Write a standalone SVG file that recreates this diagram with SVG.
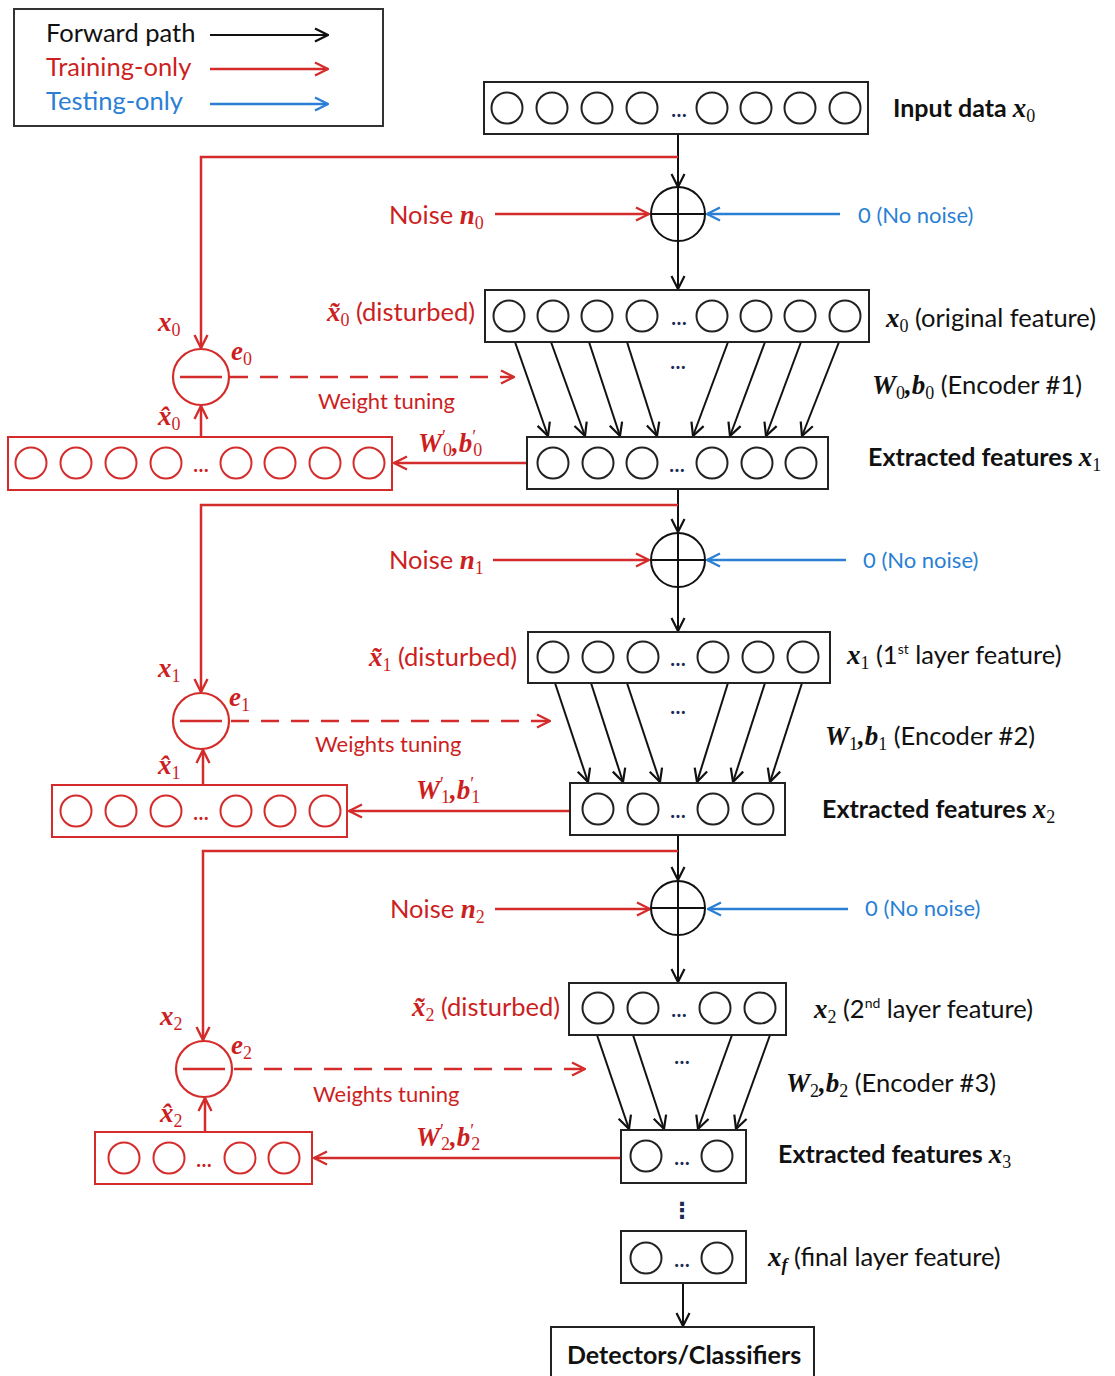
<svg xmlns="http://www.w3.org/2000/svg" width="1115" height="1376" viewBox="0 0 1115 1376">
<defs>
<marker id="ak" markerUnits="userSpaceOnUse" markerWidth="16" markerHeight="16" viewBox="0 0 16 16" refX="15" refY="8" orient="auto"><path d="M2,1.5 L15,8 L2,14.5" fill="none" stroke="#111" stroke-width="2.2"/></marker>
<marker id="ar" markerUnits="userSpaceOnUse" markerWidth="16" markerHeight="16" viewBox="0 0 16 16" refX="15" refY="8" orient="auto"><path d="M2,1.5 L15,8 L2,14.5" fill="none" stroke="#d42b2b" stroke-width="2.4"/></marker>
<marker id="ab" markerUnits="userSpaceOnUse" markerWidth="16" markerHeight="16" viewBox="0 0 16 16" refX="15" refY="8" orient="auto"><path d="M2,1.5 L15,8 L2,14.5" fill="none" stroke="#2a7fd4" stroke-width="2.4"/></marker>
</defs>
<style>
.t{font-family:Lato,"Open Sans",sans-serif;font-size:25.5px;fill:#111}
.tb{font-family:Lato,"Open Sans",sans-serif;font-size:25px;font-weight:bold;fill:#111}
.red{fill:#cc1f1f}
.blue{fill:#2a7fd4}
.m{font-family:"Liberation Serif","DejaVu Serif",serif;font-weight:bold;font-style:italic;font-size:27px}
.s{font-family:"Liberation Serif","DejaVu Serif",serif;font-size:18px;font-weight:normal;font-style:normal}
.box{fill:#fff;stroke:#222;stroke-width:2}
.rbox{fill:#fff;stroke:#d42b2b;stroke-width:2}
.c{fill:none;stroke:#222;stroke-width:2}
.rc{fill:none;stroke:#d42b2b;stroke-width:2}
.dots{font-family:Lato,sans-serif;font-size:20px;font-weight:bold;fill:#1a2a55;text-anchor:middle}
.rdots{font-family:Lato,sans-serif;font-size:20px;font-weight:bold;fill:#cc1f1f;text-anchor:middle}
.k{stroke:#111;stroke-width:2;fill:none}
.r{stroke:#d42b2b;stroke-width:2.5;fill:none}
.b{stroke:#2a7fd4;stroke-width:2.5;fill:none}
.dash{stroke:#d42b2b;stroke-width:2.5;fill:none;stroke-dasharray:18,12}
.sm{font-family:Lato,"Open Sans",sans-serif;font-size:22px}
</style>
<rect width="1115" height="1376" fill="#fff"/>

<g id="legend">
<rect x="14" y="9" width="369" height="117" fill="#fff" stroke="#333" stroke-width="2"/>
<text x="46" y="42" class="t" font-size="25px">Forward path</text>
<text x="46" y="76" class="t red" font-size="25px">Training-only</text>
<text x="46" y="110" class="t blue" font-size="25px">Testing-only</text>
<line x1="210" y1="35" x2="328" y2="35" class="k" stroke-width="2.5" marker-end="url(#ak)"/>
<line x1="210" y1="69" x2="328" y2="69" class="r" marker-end="url(#ar)"/>
<line x1="210" y1="104" x2="328" y2="104" class="b" marker-end="url(#ab)"/>
</g>

<g id="connectors">
<line x1="678" y1="134" x2="678" y2="187" class="k" marker-end="url(#ak)"/>
<line x1="678" y1="241" x2="678" y2="289" class="k" marker-end="url(#ak)"/>
<line x1="678" y1="489" x2="678" y2="532" class="k" marker-end="url(#ak)"/>
<line x1="678" y1="587" x2="678" y2="631" class="k" marker-end="url(#ak)"/>
<line x1="678" y1="835" x2="678" y2="880" class="k" marker-end="url(#ak)"/>
<line x1="678" y1="935" x2="678" y2="982" class="k" marker-end="url(#ak)"/>
<line x1="683" y1="1283" x2="683" y2="1326" class="k" marker-end="url(#ak)"/>
<line x1="515" y1="342" x2="548" y2="436" class="k" marker-end="url(#ak)"/>
<line x1="551" y1="342" x2="585" y2="436" class="k" marker-end="url(#ak)"/>
<line x1="589" y1="342" x2="620" y2="436" class="k" marker-end="url(#ak)"/>
<line x1="627" y1="342" x2="657" y2="436" class="k" marker-end="url(#ak)"/>
<line x1="728" y1="342" x2="693" y2="436" class="k" marker-end="url(#ak)"/>
<line x1="765" y1="342" x2="730" y2="436" class="k" marker-end="url(#ak)"/>
<line x1="801" y1="342" x2="766" y2="436" class="k" marker-end="url(#ak)"/>
<line x1="839" y1="342" x2="802" y2="436" class="k" marker-end="url(#ak)"/>
<line x1="555" y1="683" x2="588" y2="782" class="k" marker-end="url(#ak)"/>
<line x1="591" y1="683" x2="623" y2="782" class="k" marker-end="url(#ak)"/>
<line x1="627" y1="683" x2="660" y2="782" class="k" marker-end="url(#ak)"/>
<line x1="728" y1="683" x2="697" y2="782" class="k" marker-end="url(#ak)"/>
<line x1="765" y1="683" x2="733" y2="782" class="k" marker-end="url(#ak)"/>
<line x1="802" y1="683" x2="770" y2="782" class="k" marker-end="url(#ak)"/>
<line x1="597" y1="1035" x2="629" y2="1129" class="k" marker-end="url(#ak)"/>
<line x1="633" y1="1035" x2="664" y2="1129" class="k" marker-end="url(#ak)"/>
<line x1="732" y1="1035" x2="698" y2="1129" class="k" marker-end="url(#ak)"/>
<line x1="770" y1="1035" x2="736" y2="1129" class="k" marker-end="url(#ak)"/>
<path d="M678,157 H201 V348" class="r" marker-end="url(#ar)"/>
<path d="M678,505 H201 V692" class="r" marker-end="url(#ar)"/>
<path d="M678,851 H203 V1040" class="r" marker-end="url(#ar)"/>
<line x1="495" y1="214" x2="649" y2="214" class="r" marker-end="url(#ar)"/>
<line x1="493" y1="560" x2="649" y2="560" class="r" marker-end="url(#ar)"/>
<line x1="495" y1="909" x2="650" y2="909" class="r" marker-end="url(#ar)"/>
<line x1="527" y1="463" x2="394" y2="463" class="r" marker-end="url(#ar)"/>
<line x1="570" y1="811" x2="349" y2="811" class="r" marker-end="url(#ar)"/>
<line x1="621" y1="1158" x2="314" y2="1158" class="r" marker-end="url(#ar)"/>
<line x1="201" y1="437" x2="201" y2="406" class="r" marker-end="url(#ar)"/>
<line x1="203" y1="785" x2="203" y2="750" class="r" marker-end="url(#ar)"/>
<line x1="205" y1="1132" x2="205" y2="1098" class="r" marker-end="url(#ar)"/>
<line x1="230" y1="377" x2="514" y2="377" class="dash" marker-end="url(#ar)"/>
<line x1="231" y1="721" x2="550" y2="721" class="dash" marker-end="url(#ar)"/>
<line x1="234" y1="1069" x2="585" y2="1069" class="dash" marker-end="url(#ar)"/>
<line x1="840" y1="214" x2="707" y2="214" class="b" marker-end="url(#ab)"/>
<line x1="846" y1="560" x2="707" y2="560" class="b" marker-end="url(#ab)"/>
<line x1="848" y1="909" x2="708" y2="909" class="b" marker-end="url(#ab)"/>
</g>

<g id="input-layer">
<rect x="484" y="82" width="384" height="52" class="box"/>
<circle cx="507" cy="108" r="15.5" class="c"/><circle cx="552" cy="108" r="15.5" class="c"/><circle cx="597" cy="108" r="15.5" class="c"/><circle cx="642" cy="108" r="15.5" class="c"/>
<circle cx="712" cy="108" r="15.5" class="c"/><circle cx="756" cy="108" r="15.5" class="c"/><circle cx="800" cy="108" r="15.5" class="c"/><circle cx="845" cy="108" r="15.5" class="c"/>
<text x="679" y="117" class="dots">…</text>
<text x="893" y="117" class="tb">Input data <tspan class="m">x</tspan><tspan class="s" dy="5">0</tspan></text>
</g>

<g id="sum-0">
<circle cx="678" cy="214" r="27" fill="#fff" stroke="#111" stroke-width="2"/>
<path d="M652,214 H704 M678,188 V240" class="k"/>
<text x="389" y="224" class="t red">Noise <tspan class="m">n</tspan><tspan class="s" dy="5">0</tspan></text>
<text x="858" y="223" class="sm blue">0 (No noise)</text>
</g>

<g id="layer-x0">
<rect x="485" y="290" width="384" height="52" class="box"/>
<circle cx="509" cy="316" r="15.5" class="c"/><circle cx="553" cy="316" r="15.5" class="c"/><circle cx="597" cy="316" r="15.5" class="c"/><circle cx="642" cy="316" r="15.5" class="c"/>
<circle cx="712" cy="316" r="15.5" class="c"/><circle cx="756" cy="316" r="15.5" class="c"/><circle cx="800" cy="316" r="15.5" class="c"/><circle cx="845" cy="316" r="15.5" class="c"/>
<text x="679" y="325" class="dots">…</text>
<text x="475" y="321" class="t red" text-anchor="end"><tspan class="m">x̃</tspan><tspan class="s" dy="5">0</tspan><tspan dy="-5"> (disturbed)</tspan></text>
<text x="886" y="327" class="t"><tspan class="m">x</tspan><tspan class="s" dy="5">0</tspan><tspan dy="-5"> (original feature)</tspan></text>
<text x="678" y="369" class="dots">…</text>
<text x="872" y="394" class="t"><tspan class="m">W</tspan><tspan class="s" dy="5">0</tspan><tspan dy="-5" class="m">,b</tspan><tspan class="s" dy="5">0</tspan><tspan dy="-5"> (Encoder #1)</tspan></text>
</g>

<g id="sub-0">
<circle cx="201" cy="377" r="28" fill="#fff" stroke="#d42b2b" stroke-width="2.2"/>
<line x1="180" y1="377" x2="222" y2="377" class="r"/>
<text x="158" y="331" class="red"><tspan class="m">x</tspan><tspan class="s" dy="5">0</tspan></text>
<text x="231" y="360" class="red"><tspan class="m">e</tspan><tspan class="s" dy="5">0</tspan></text>
<text x="158" y="425" class="red"><tspan class="m">x̂</tspan><tspan class="s" dy="5">0</tspan></text>
<text x="318" y="409" class="sm red">Weight tuning</text>
</g>

<g id="layer-x1">
<rect x="527" y="437" width="301" height="52" class="box"/>
<circle cx="553" cy="463" r="15.5" class="c"/><circle cx="598" cy="463" r="15.5" class="c"/><circle cx="642" cy="463" r="15.5" class="c"/>
<circle cx="712" cy="463" r="15.5" class="c"/><circle cx="757" cy="463" r="15.5" class="c"/><circle cx="801" cy="463" r="15.5" class="c"/>
<text x="677" y="472" class="dots">…</text>
<text x="868" y="466" class="tb">Extracted features <tspan class="m">x</tspan><tspan class="s" dy="5">1</tspan></text>
</g>

<g id="decoder-0">
<rect x="8" y="437" width="384" height="53" class="rbox"/>
<circle cx="31" cy="463" r="15.5" class="rc"/><circle cx="76" cy="463" r="15.5" class="rc"/><circle cx="121" cy="463" r="15.5" class="rc"/><circle cx="166" cy="463" r="15.5" class="rc"/>
<circle cx="236" cy="463" r="15.5" class="rc"/><circle cx="280" cy="463" r="15.5" class="rc"/><circle cx="325" cy="463" r="15.5" class="rc"/><circle cx="369" cy="463" r="15.5" class="rc"/>
<text x="201" y="472" class="rdots">…</text>
<text x="418" y="452" class="red"><tspan class="m">W</tspan><tspan class="s" dy="-9">′</tspan><tspan class="s" dx="-3" dy="13">0</tspan><tspan class="m" dy="-4">,b</tspan><tspan class="s" dy="-9">′</tspan><tspan class="s" dx="-3" dy="13">0</tspan></text>
</g>

<g id="sum-1">
<circle cx="678" cy="560" r="27" fill="#fff" stroke="#111" stroke-width="2"/>
<path d="M652,560 H704 M678,534 V586" class="k"/>
<text x="389" y="569" class="t red">Noise <tspan class="m">n</tspan><tspan class="s" dy="5">1</tspan></text>
<text x="863" y="568" class="sm blue">0 (No noise)</text>
</g>

<g id="layer-x1-in">
<rect x="528" y="632" width="302" height="51" class="box"/>
<circle cx="553" cy="657" r="15.5" class="c"/><circle cx="598" cy="657" r="15.5" class="c"/><circle cx="643" cy="657" r="15.5" class="c"/>
<circle cx="713" cy="657" r="15.5" class="c"/><circle cx="758" cy="657" r="15.5" class="c"/><circle cx="803" cy="657" r="15.5" class="c"/>
<text x="678" y="666" class="dots">…</text>
<text x="517" y="666" class="t red" text-anchor="end"><tspan class="m">x̃</tspan><tspan class="s" dy="5">1</tspan><tspan dy="-5"> (disturbed)</tspan></text>
<text x="847" y="664" class="t"><tspan class="m">x</tspan><tspan class="s" dy="5">1</tspan><tspan dy="-5"> (1</tspan><tspan font-size="14" dy="-10">st</tspan><tspan dy="10"> layer feature)</tspan></text>
<text x="678" y="714" class="dots">…</text>
<text x="825" y="745" class="t"><tspan class="m">W</tspan><tspan class="s" dy="5">1</tspan><tspan dy="-5" class="m">,b</tspan><tspan class="s" dy="5">1</tspan><tspan dy="-5"> (Encoder #2)</tspan></text>
</g>

<g id="sub-1">
<circle cx="201" cy="721" r="28" fill="#fff" stroke="#d42b2b" stroke-width="2.2"/>
<line x1="180" y1="721" x2="222" y2="721" class="r"/>
<text x="158" y="677" class="red"><tspan class="m">x</tspan><tspan class="s" dy="5">1</tspan></text>
<text x="229" y="706" class="red"><tspan class="m">e</tspan><tspan class="s" dy="5">1</tspan></text>
<text x="158" y="774" class="red"><tspan class="m">x̂</tspan><tspan class="s" dy="5">1</tspan></text>
<text x="315" y="752" class="sm red">Weights tuning</text>
</g>

<g id="layer-x2">
<rect x="570" y="783" width="215" height="52" class="box"/>
<circle cx="598" cy="809" r="15.5" class="c"/><circle cx="643" cy="809" r="15.5" class="c"/>
<circle cx="713" cy="809" r="15.5" class="c"/><circle cx="758" cy="809" r="15.5" class="c"/>
<text x="678" y="818" class="dots">…</text>
<text x="822" y="818" class="tb">Extracted features <tspan class="m">x</tspan><tspan class="s" dy="5">2</tspan></text>
</g>

<g id="decoder-1">
<rect x="52" y="785" width="295" height="52" class="rbox"/>
<circle cx="76" cy="811" r="15.5" class="rc"/><circle cx="121" cy="811" r="15.5" class="rc"/><circle cx="166" cy="811" r="15.5" class="rc"/>
<circle cx="236" cy="811" r="15.5" class="rc"/><circle cx="280" cy="811" r="15.5" class="rc"/><circle cx="325" cy="811" r="15.5" class="rc"/>
<text x="201" y="820" class="rdots">…</text>
<text x="416" y="799" class="red"><tspan class="m">W</tspan><tspan class="s" dy="-9">′</tspan><tspan class="s" dx="-3" dy="13">1</tspan><tspan class="m" dy="-4">,b</tspan><tspan class="s" dy="-9">′</tspan><tspan class="s" dx="-3" dy="13">1</tspan></text>
</g>

<g id="sum-2">
<circle cx="678" cy="908" r="27" fill="#fff" stroke="#111" stroke-width="2"/>
<path d="M652,908 H704 M678,882 V934" class="k"/>
<text x="390" y="918" class="t red">Noise <tspan class="m">n</tspan><tspan class="s" dy="5">2</tspan></text>
<text x="865" y="916" class="sm blue">0 (No noise)</text>
</g>

<g id="layer-x2-in">
<rect x="569" y="983" width="217" height="52" class="box"/>
<circle cx="598" cy="1008" r="15.5" class="c"/><circle cx="643" cy="1008" r="15.5" class="c"/>
<circle cx="715" cy="1008" r="15.5" class="c"/><circle cx="760" cy="1008" r="15.5" class="c"/>
<text x="679" y="1017" class="dots">…</text>
<text x="560" y="1016" class="t red" text-anchor="end"><tspan class="m">x̃</tspan><tspan class="s" dy="5">2</tspan><tspan dy="-5"> (disturbed)</tspan></text>
<text x="814" y="1018" class="t"><tspan class="m">x</tspan><tspan class="s" dy="5">2</tspan><tspan dy="-5"> (2</tspan><tspan font-size="14" dy="-10">nd</tspan><tspan dy="10"> layer feature)</tspan></text>
<text x="682" y="1064" class="dots">…</text>
<text x="786" y="1092" class="t"><tspan class="m">W</tspan><tspan class="s" dy="5">2</tspan><tspan dy="-5" class="m">,b</tspan><tspan class="s" dy="5">2</tspan><tspan dy="-5"> (Encoder #3)</tspan></text>
</g>

<g id="sub-2">
<circle cx="204" cy="1069" r="28" fill="#fff" stroke="#d42b2b" stroke-width="2.2"/>
<line x1="183" y1="1069" x2="225" y2="1069" class="r"/>
<text x="160" y="1025" class="red"><tspan class="m">x</tspan><tspan class="s" dy="5">2</tspan></text>
<text x="231" y="1054" class="red"><tspan class="m">e</tspan><tspan class="s" dy="5">2</tspan></text>
<text x="160" y="1122" class="red"><tspan class="m">x̂</tspan><tspan class="s" dy="5">2</tspan></text>
<text x="313" y="1102" class="sm red">Weights tuning</text>
</g>

<g id="layer-x3">
<rect x="621" y="1130" width="125" height="53" class="box"/>
<circle cx="646" cy="1156" r="15.5" class="c"/><circle cx="717" cy="1156" r="15.5" class="c"/>
<text x="682" y="1165" class="dots">…</text>
<text x="778" y="1163" class="tb">Extracted features <tspan class="m">x</tspan><tspan class="s" dy="5">3</tspan></text>
</g>

<g id="decoder-2">
<rect x="95" y="1132" width="217" height="52" class="rbox"/>
<circle cx="124" cy="1158" r="15.5" class="rc"/><circle cx="169" cy="1158" r="15.5" class="rc"/>
<circle cx="240" cy="1158" r="15.5" class="rc"/><circle cx="284" cy="1158" r="15.5" class="rc"/>
<text x="204" y="1167" class="rdots">…</text>
<text x="416" y="1146" class="red"><tspan class="m">W</tspan><tspan class="s" dy="-9">′</tspan><tspan class="s" dx="-3" dy="13">2</tspan><tspan class="m" dy="-4">,b</tspan><tspan class="s" dy="-9">′</tspan><tspan class="s" dx="-3" dy="13">2</tspan></text>
</g>

<g id="ellipsis">
<text x="682" y="1218" font-family="DejaVu Sans,sans-serif" font-size="22" font-weight="bold" fill="#1a2a55" text-anchor="middle">⋮</text>
</g>

<g id="layer-xf">
<rect x="621" y="1231" width="125" height="52" class="box"/>
<circle cx="646" cy="1258" r="15.5" class="c"/><circle cx="717" cy="1258" r="15.5" class="c"/>
<text x="682" y="1267" class="dots">…</text>
<text x="768" y="1266" class="t"><tspan class="m">x</tspan><tspan font-family="Liberation Serif,serif" font-style="italic" font-weight="bold" font-size="18" dy="5">f</tspan><tspan dy="-5"> (final layer feature)</tspan></text>
</g>

<g id="classifier">
<rect x="551" y="1327" width="263" height="60" class="box"/>
<text x="567" y="1364" class="tb" font-size="26px">Detectors/Classifiers</text>
</g>
</svg>
